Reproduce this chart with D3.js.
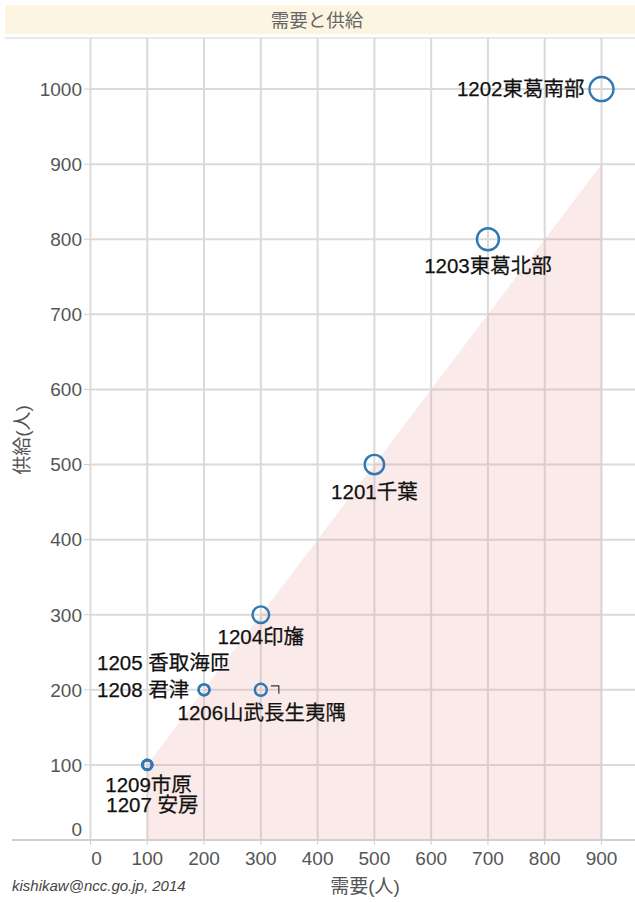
<!DOCTYPE html>
<html><head><meta charset="utf-8">
<script src="https://cdn.jsdelivr.net/npm/d3@7"></script>
<style>
html,body{margin:0;padding:0;background:#fff;}
svg{display:block;}
</style></head>
<body>
<svg id="chart" width="635" height="902"></svg>
<script>
// ---- data ----
const title = "需要と供給";
const xTitle = "需要(人)";
const yTitle = "供給(人)";
const footer = "kishikaw@ncc.go.jp, 2014";
const codes   = ["1201","1202","1203","1204","1205","1206","1207","1208","1209"];
const names   = ["千葉","東葛南部","東葛北部","印旛","香取海匝","山武長生夷隅","安房","君津","市原"];
const demand  = [500, 900, 700, 300, 200, 300, 100, 200, 100];
const supply  = [500, 1000, 800, 300, 200, 200, 100, 200, 100];
// size measure (estimated from circle areas in the picture)
const sizeMeasure = [9.4, 14.4, 12.1, 6.9, 3.0, 3.6, 2.3, 3.0, 2.3];
const xTicks  = [0,100,200,300,400,500,600,700,800,900];
const yTicks  = [0,100,200,300,400,500,600,700,800,900,1000];
const shadeX  = [100, 900];   // region where supply < demand (diagonal)

// ---- layout ----
const svg = d3.select("#chart");
const L = 90.5, R = 635, T = 38, B = 840;
const x = d3.scaleLinear().domain([0, 959]).range([L, R]);
const y = d3.scaleLinear().domain([0, 1068]).range([B, T]);

const fontLat = "'Liberation Sans', Arial, 'Noto Sans CJK JP', sans-serif";

// header band
svg.append("rect").attr("x",5).attr("y",5).attr("width",630).attr("height",29).attr("fill","#fdf5e1");
svg.append("text").attr("x",317).attr("y",27).attr("text-anchor","middle")
  .attr("font-family","'Noto Sans CJK JP', sans-serif").attr("font-size",18.5).attr("fill","#666").text(title);

// top border
svg.append("line").attr("x1",5).attr("x2",635).attr("y1",T).attr("y2",T).attr("stroke","#e2e0e6").attr("stroke-width",1.5);

// gridlines
const gridColor = "#dadada";
svg.append("g").selectAll("line").data(xTicks.filter(d=>d>0)).join("line")
  .attr("x1",d=>x(d)).attr("x2",d=>x(d)).attr("y1",T).attr("y2",B)
  .attr("stroke",gridColor).attr("stroke-width",2);
svg.append("g").selectAll("line").data(yTicks.filter(d=>d>0)).join("line")
  .attr("x1",L).attr("x2",R).attr("y1",d=>y(d)).attr("y2",d=>y(d))
  .attr("stroke",gridColor).attr("stroke-width",2);

// shaded region (supply < demand)
const area = d3.area().x(d=>x(d)).y0(y(0)).y1(d=>y(d));
svg.append("path").datum(shadeX).attr("d",area).attr("fill","rgba(232,150,150,0.2)");

// axis lines
svg.append("line").attr("x1",L).attr("x2",L).attr("y1",T).attr("y2",B).attr("stroke","#dcdcdc").attr("stroke-width",2);
svg.append("line").attr("x1",12).attr("x2",635).attr("y1",B).attr("y2",B).attr("stroke","#d0d0d0").attr("stroke-width",2);

// y axis ticks + labels
const yAx = svg.append("g");
yAx.selectAll("line").data(yTicks.filter(d=>d>0)).join("line")
  .attr("x1",84).attr("x2",L).attr("y1",d=>y(d)).attr("y2",d=>y(d)).attr("stroke","#cfcfcf").attr("stroke-width",1);
yAx.selectAll("text").data(yTicks).join("text")
  .attr("x",82).attr("y",d=> d===0 ? y(d)-11 : y(d)).attr("dy","0.36em")
  .attr("text-anchor","end").attr("font-family",fontLat).attr("font-size",19).attr("fill","#555")
  .text(d=>d);

// x axis ticks + labels
const xAx = svg.append("g");
xAx.selectAll("line").data(xTicks).join("line")
  .attr("x1",d=>x(d)).attr("x2",d=>x(d)).attr("y1",B).attr("y2",B+5).attr("stroke","#cfcfcf").attr("stroke-width",1);
xAx.selectAll("text").data(xTicks).join("text")
  .attr("x",d=> d===0 ? x(d)+6 : x(d)).attr("y",B+18).attr("dy","0.36em")
  .attr("text-anchor","middle").attr("font-family",fontLat).attr("font-size",19).attr("fill","#555")
  .text(d=>d);

// axis titles
svg.append("text").attr("x",365).attr("y",893).attr("text-anchor","middle")
  .attr("font-family",fontLat).attr("font-size",19).attr("fill","#555").text(xTitle);
svg.append("text").attr("transform","translate(29,440) rotate(-90)").attr("text-anchor","middle")
  .attr("font-family",fontLat).attr("font-size",19).attr("fill","#555").text(yTitle);

// footer
svg.append("text").attr("x",12).attr("y",891).attr("font-family",fontLat).attr("font-style","italic")
  .attr("font-size",15).attr("fill","#444").text(footer);

// points
const pts = codes.map((c,i)=>({code:c, name:names[i], dx:demand[i], sy:supply[i], size:sizeMeasure[i]}));
const rScale = d3.scaleSqrt().domain([0, d3.max(sizeMeasure)]).range([0, 12]);
svg.append("g").selectAll("circle").data(pts).join("circle")
  .attr("cx",d=>x(d.dx)).attr("cy",d=>y(d.sy)).attr("r",d=>rScale(d.size))
  .attr("fill","none").attr("stroke","#2f78b2").attr("stroke-width",d=>d.size<2.5?3:2.4);

// labels
const lblFont = 20.5;
const lab = svg.append("g").attr("font-family",fontLat).attr("font-size",lblFont)
  .attr("fill","#111").attr("stroke","#111").attr("stroke-width",0.25);
const byCode = Object.fromEntries(pts.map(p=>[p.code,p]));
function put(code, txt, ox, oy, anchor){
  const p = byCode[code];
  lab.append("text").attr("x",x(p.dx)+ox).attr("y",y(p.sy)+oy).attr("dy","0.36em")
    .attr("text-anchor",anchor).text(txt);
}
put("1202", "1202"+names[1], -17, 0, "end");
put("1203", "1203"+names[2], 0, 26, "middle");
put("1201", "1201"+names[0], 0, 27, "middle");
put("1204", "1204"+names[3], 0, 22, "middle");
put("1206", "1206"+names[5], 1, 23, "middle");
put("1205", "1205 "+names[4], -107, -27, "start");
put("1208", "1208 "+names[7], -107, 0, "start");
put("1209", "1209"+names[8], -42, 20, "start");
put("1207", "1207 "+names[6], -41, 40, "start");
// small bracket mark beside 1206
const p6 = byCode["1206"];
svg.append("path").attr("d",`M${x(p6.dx)+10},${y(p6.sy)-4}h8v8`).attr("fill","none").attr("stroke","#333").attr("stroke-width",1.2);
</script>
</body></html>
